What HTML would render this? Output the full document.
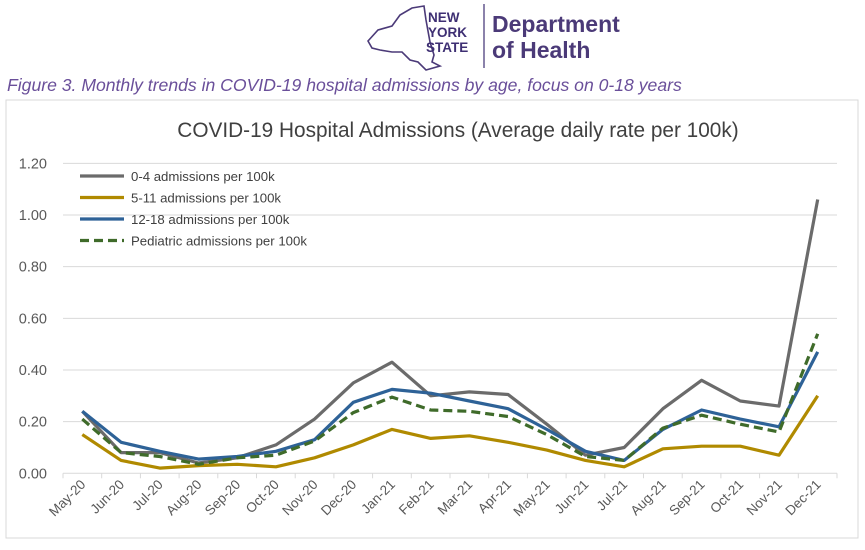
<!DOCTYPE html>
<html><head><meta charset="utf-8">
<style>
body{margin:0;width:865px;height:545px;background:#fff;overflow:hidden;font-family:"Liberation Sans",sans-serif;}
</style></head>
<body>
<svg width="865" height="545" xmlns="http://www.w3.org/2000/svg">
  <g>
    <path d="M368,41 L378,30 L392,26 L400,15 L412,8 L424,6 L426,20 L430,42 L434,55 L432,62 L440,66 L426,70 L418,62 L410,60 L402,52 L392,52 L380,50 L372,48 Z" fill="none" stroke="#4b3a78" stroke-width="1.6"/>
    <text x="428" y="22" font-size="13.5" font-weight="bold" fill="#3e2f73">NEW</text>
    <text x="428" y="37" font-size="13.5" font-weight="bold" fill="#3e2f73">YORK</text>
    <text x="426" y="52" font-size="13.5" font-weight="bold" fill="#3e2f73">STATE</text>
    <line x1="484" y1="4" x2="484" y2="68" stroke="#3e2f73" stroke-width="1.2"/>
    <text x="492" y="32" font-size="23" font-weight="bold" fill="#4b3a78">Department</text>
    <text x="492" y="58" font-size="23" font-weight="bold" fill="#4b3a78">of Health</text>
  </g>
  <text x="7" y="91" font-size="17.6" font-style="italic" fill="#6a4f9a">Figure 3. Monthly trends in COVID-19 hospital admissions by age, focus on 0-18 years</text>
  <rect x="6" y="100" width="852" height="438" fill="#fff" stroke="#d9d9d9" stroke-width="1"/>
  <text x="458" y="137" font-size="20.8" fill="#404040" text-anchor="middle">COVID-19 Hospital Admissions (Average daily rate per 100k)</text>
  <g id="grid"></g>
  <g id="xaxis"></g>
  <g id="series"></g>
  <g id="legend"></g>
</svg>
<script>
const categories=["May-20","Jun-20","Jul-20","Aug-20","Sep-20","Oct-20","Nov-20","Dec-20","Jan-21","Feb-21","Mar-21","Apr-21","May-21","Jun-21","Jul-21","Aug-21","Sep-21","Oct-21","Nov-21","Dec-21"];
const age0to4=[0.24,0.08,0.08,0.04,0.06,0.11,0.21,0.35,0.43,0.30,0.315,0.305,0.19,0.07,0.10,0.25,0.36,0.28,0.26,1.06];
const age5to11=[0.15,0.05,0.02,0.03,0.035,0.025,0.06,0.11,0.17,0.135,0.145,0.12,0.09,0.05,0.025,0.095,0.105,0.105,0.07,0.30];
const age12to18=[0.24,0.12,0.085,0.055,0.065,0.085,0.13,0.275,0.325,0.31,0.28,0.25,0.17,0.085,0.05,0.17,0.245,0.21,0.18,0.47];
const pediatric=[0.21,0.08,0.065,0.035,0.06,0.07,0.125,0.235,0.295,0.245,0.24,0.22,0.15,0.065,0.05,0.175,0.225,0.19,0.16,0.54];
const yTicks=[0,0.2,0.4,0.6,0.8,1.0,1.2];
const yTickLabels=["0.00","0.20","0.40","0.60","0.80","1.00","1.20"];
const seriesNames=["0-4 admissions per 100k","5-11 admissions per 100k","12-18  admissions per 100k","Pediatric  admissions per 100k"];

const NS="http://www.w3.org/2000/svg";
const X0=63,X1=837,Y0=473.3,YS=258.3;
const step=(X1-X0)/categories.length;
function xPos(i){return X0+step*(i+0.5);}
function yPos(v){return Y0-v*YS;}
function mk(tag,attrs,parent){const e=document.createElementNS(NS,tag);for(const k in attrs)e.setAttribute(k,attrs[k]);parent.appendChild(e);return e;}

const grid=document.getElementById('grid');
yTicks.forEach((t,i)=>{
  if(t>0){const l=mk('line',{x1:X0,x2:X1,y1:yPos(t),y2:yPos(t),stroke:'#d9d9d9','stroke-width':1},grid);
  
  }
  const tx=mk('text',{x:47,y:yPos(t)+5,'font-size':14.5,fill:'#595959','text-anchor':'end'},grid);
  tx.textContent=yTickLabels[i];
  
  
});
const xa=document.getElementById('xaxis');
const ax=mk('line',{x1:X0,x2:X1,y1:Y0,y2:Y0,stroke:'#d9d9d9','stroke-width':1},xa);


for(let i=0;i<=categories.length;i++){
  const tk=mk('line',{x1:X0+step*i,x2:X0+step*i,y1:Y0,y2:Y0+5,stroke:'#d9d9d9'},xa);
  
  
}
categories.forEach((c,i)=>{
  const x=xPos(i)+4,y=Y0+12;
  const t=mk('text',{x:x,y:y,'font-size':13.5,fill:'#595959','text-anchor':'end',transform:`rotate(-45 ${x} ${y})`},xa);
  t.textContent=c;
  
  
});
const styles=[
  {data:age0to4,color:'#6b6b6b',dash:null,name:'line-0-4'},
  {data:age5to11,color:'#b08a00',dash:null,name:'line-5-11'},
  {data:age12to18,color:'#2e6297',dash:null,name:'line-12-18'},
  {data:pediatric,color:'#3f6b2a',dash:'9,5',name:'line-pediatric'}
];
const sg=document.getElementById('series');
styles.forEach(s=>{
  const pts=s.data.map((v,i)=>xPos(i).toFixed(1)+','+yPos(v).toFixed(1)).join(' ');
  const a={points:pts,fill:'none',stroke:s.color,'stroke-width':3.2,'stroke-linejoin':'round'};
  if(s.dash)a['stroke-dasharray']=s.dash;
  const p=mk('polyline',a,sg);
  
  
});
const lg=document.getElementById('legend');
styles.forEach((s,i)=>{
  const y=176+i*21.5;
  const a={x1:80,x2:124,y1:y,y2:y,stroke:s.color,'stroke-width':3.2};
  if(s.dash)a['stroke-dasharray']=s.dash;
  const l=mk('line',a,lg);
  
  
  const t=mk('text',{x:131,y:y+5,'font-size':13.2,fill:'#404040'},lg);
  t.textContent=seriesNames[i];
  
  
});
</script>
</body></html>
